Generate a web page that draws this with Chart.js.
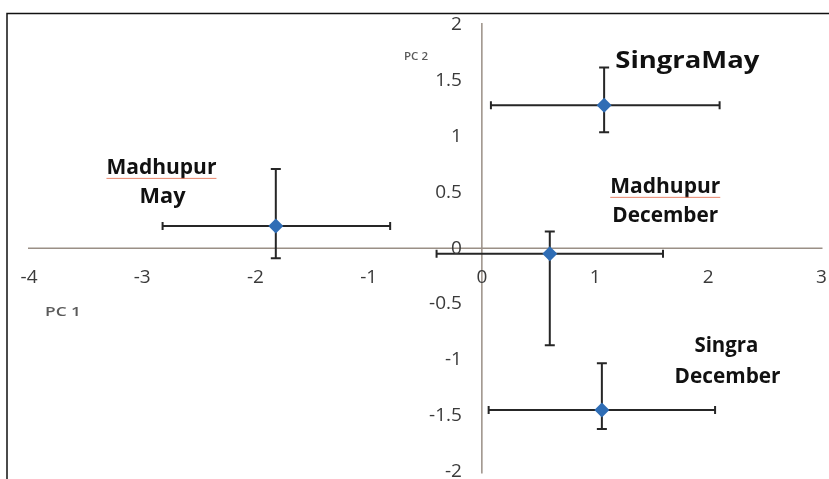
<!DOCTYPE html>
<html><head><meta charset="utf-8">
<script src="https://cdn.jsdelivr.net/npm/chart.js@4.4.0/dist/chart.umd.min.js"></script>
<style>html,body{margin:0;padding:0;background:#fff}#wrap{width:829px;height:479px;position:relative}</style>
</head><body><div id="wrap"><canvas id="c" width="829" height="479"></canvas></div>
<script>
// ---- data ----
const groups = ['Madhupur May', 'Madhupur December', 'SingraMay', 'Singra December'];
const pc1 = [-1.82, 0.60, 1.08, 1.06];
const pc2 = [0.20, -0.05, 1.28, -1.45];
const pc1Low = [-2.82, -0.40, 0.08, 0.06];
const pc1High = [-0.81, 1.60, 2.10, 2.06];
const pc2Low = [-0.09, -0.87, 1.04, -1.62];
const pc2High = [0.71, 0.15, 1.62, -1.03];
const xTicks = [-4, -3, -2, -1, 0, 1, 2, 3];
const yTicks = [-2, -1.5, -1, -0.5, 0, 0.5, 1, 1.5, 2];
const xAxisTitle = 'PC 1';
const yAxisTitle = 'PC 2';

// group labels: text lines anchored at data coordinates
const groupLabels = [
  { lines: ['Madhupur', 'May'], x: [-2.83, -2.82], y: [0.72, 0.455], underline: [true, false], size: 21, w: [110, 46] },
  { lines: ['SingraMay'], x: [1.815], y: [1.67], underline: [false], size: 23, w: [144] },
  { lines: ['Madhupur', 'December'], x: [1.62, 1.62], y: [0.55, 0.285], underline: [true, false], size: 21, w: [110, 106] },
  { lines: ['Singra', 'December'], x: [2.16, 2.17], y: [-0.875, -1.15], underline: [false, false], size: 21, w: [64, 106] }
];

function fitText(ctx, t, cx, cy, w, align) {
  const mw = ctx.measureText(t).width;
  ctx.save();
  ctx.translate(cx, cy);
  ctx.scale(w / mw, 1);
  ctx.textAlign = align;
  ctx.fillText(t, 0, 0);
  ctx.restore();
}

const decor = {
  id: 'decor',
  beforeDraw(chart) {
    const ctx = chart.ctx, xs = chart.scales.x, ys = chart.scales.y;
    ctx.save();
    // outer frame (top and left edges)
    ctx.strokeStyle = '#111';
    ctx.lineWidth = 1.5;
    ctx.beginPath();
    ctx.moveTo(7, 479); ctx.lineTo(7, 13.5); ctx.lineTo(829, 13.5);
    ctx.stroke();
    // crossing axes
    ctx.strokeStyle = '#9a8f86';
    ctx.lineWidth = 1.5;
    const y0 = ys.getPixelForValue(0), x0 = xs.getPixelForValue(0);
    ctx.beginPath();
    ctx.moveTo(xs.getPixelForValue(-4) - 1, y0); ctx.lineTo(xs.getPixelForValue(3) + 1, y0);
    ctx.moveTo(x0, ys.getPixelForValue(2) - 2); ctx.lineTo(x0, ys.getPixelForValue(-2) + 2);
    ctx.stroke();
    ctx.restore();
  },
  beforeDatasetsDraw(chart) {
    const ctx = chart.ctx, xs = chart.scales.x, ys = chart.scales.y;
    ctx.save();
    ctx.strokeStyle = '#262626';
    ctx.lineWidth = 2;
    for (let i = 0; i < pc1.length; i++) {
      const px = xs.getPixelForValue(pc1[i]), py = ys.getPixelForValue(pc2[i]);
      const xl = xs.getPixelForValue(pc1Low[i]), xh = xs.getPixelForValue(pc1High[i]);
      const yl = ys.getPixelForValue(pc2Low[i]), yh = ys.getPixelForValue(pc2High[i]);
      ctx.beginPath();
      ctx.moveTo(xl, py); ctx.lineTo(xh, py);
      ctx.moveTo(xl, py - 4); ctx.lineTo(xl, py + 4);
      ctx.moveTo(xh, py - 4); ctx.lineTo(xh, py + 4);
      ctx.moveTo(px, yl); ctx.lineTo(px, yh);
      ctx.moveTo(px - 5, yl); ctx.lineTo(px + 5, yl);
      ctx.moveTo(px - 5, yh); ctx.lineTo(px + 5, yh);
      ctx.stroke();
    }
    ctx.restore();
  },
  afterDraw(chart) {
    const ctx = chart.ctx, xs = chart.scales.x, ys = chart.scales.y;
    const x0 = xs.getPixelForValue(0), y0 = ys.getPixelForValue(0);
    ctx.save();
    ctx.fillStyle = '#3a3a3a';
    ctx.font = '19px "Open Sans"';
    ctx.textBaseline = 'middle';
    // x tick labels
    ctx.textAlign = 'center';
    xTicks.forEach(v => ctx.fillText(String(v), xs.getPixelForValue(v), y0 + 29));
    // y tick labels
    ctx.textAlign = 'right';
    yTicks.forEach(v => ctx.fillText(String(v), x0 - 20, ys.getPixelForValue(v)));
    // axis titles
    ctx.fillStyle = '#5a5a5a';
    ctx.font = '600 13px "Open Sans"';
    fitText(ctx, xAxisTitle, 45, 312, 36, 'left');
    ctx.font = '600 11px "Open Sans"';
    fitText(ctx, yAxisTitle, 404, 57, 24, 'left');
    // group labels
    ctx.fillStyle = '#111';
    groupLabels.forEach(g => {
      g.lines.forEach((t, k) => {
        ctx.font = 'bold ' + g.size + 'px "Open Sans"';
        const cx = xs.getPixelForValue(g.x[k]), cy = ys.getPixelForValue(g.y[k]);
        fitText(ctx, t, cx, cy, g.w[k], 'center');
        if (g.underline[k]) {
          ctx.save();
          ctx.strokeStyle = '#e8846a';
          ctx.lineWidth = 1;
          ctx.beginPath();
          ctx.moveTo(cx - g.w[k] / 2, cy + 10.5);
          ctx.lineTo(cx + g.w[k] / 2, cy + 10.5);
          ctx.stroke();
          ctx.restore();
        }
      });
    });
    ctx.restore();
  }
};

new Chart(document.getElementById('c'), {
  type: 'scatter',
  data: {
    datasets: [{
      label: 'PCA groups',
      data: pc1.map((v, i) => ({ x: v, y: pc2[i], g: groups[i] })),
      pointStyle: 'rectRot',
      pointRadius: 7.5,
      pointHoverRadius: 7.5,
      backgroundColor: '#2f6db5',
      borderColor: '#2f6db5',
      borderWidth: 0
    }]
  },
  options: {
    responsive: false,
    animation: false,
    layout: { padding: { left: 29, right: 4, top: 25, bottom: 6 } },
    plugins: { legend: { display: false }, tooltip: { enabled: false } },
    scales: {
      x: { type: 'linear', min: -4, max: 3, display: false },
      y: { type: 'linear', min: -2, max: 2, display: false }
    }
  },
  plugins: [decor]
});
</script>
</body></html>
